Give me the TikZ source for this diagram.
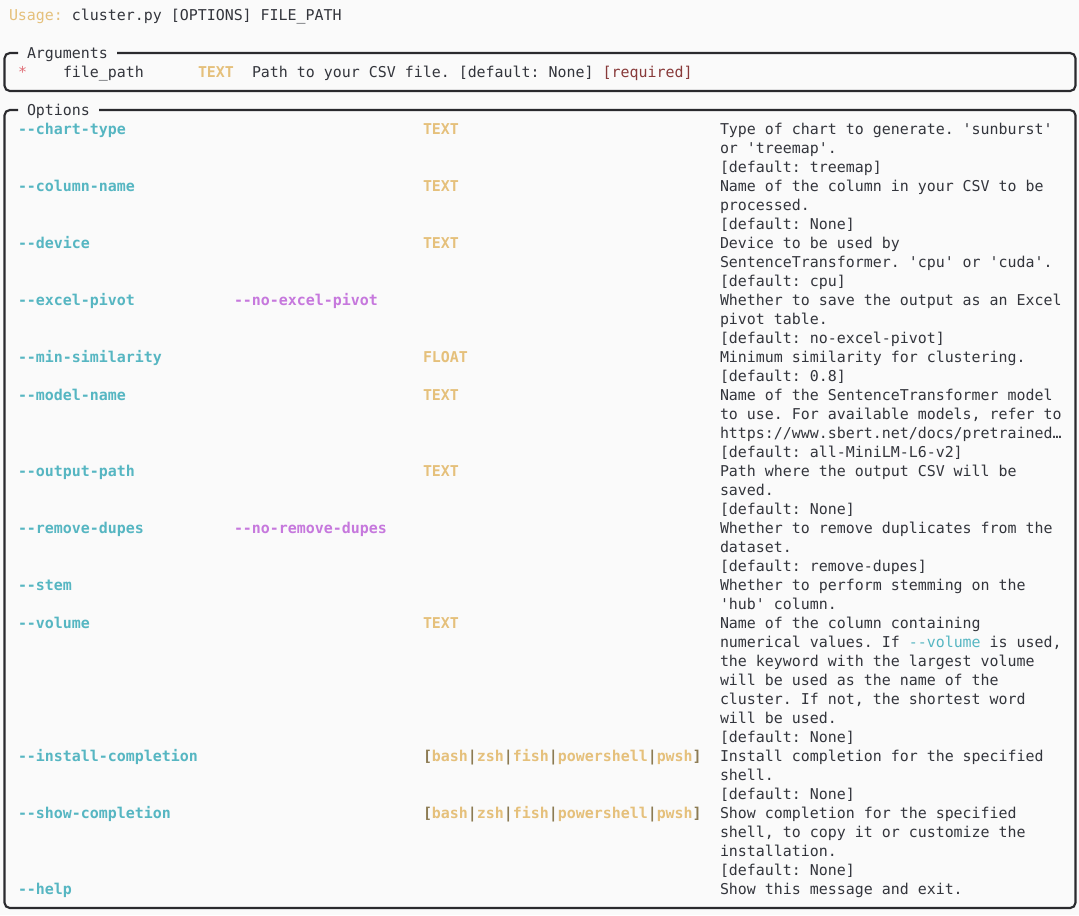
\documentclass[tikz,border=0pt]{standalone}
\usepackage{fontspec}
\setmonofont{DejaVu Sans Mono}
\definecolor{bgc}{HTML}{FAFAFA}
\definecolor{fgc}{HTML}{33353C}
\definecolor{yel}{HTML}{E5C07B}
\definecolor{cya}{HTML}{56B6C2}
\definecolor{mag}{HTML}{C678DD}
\definecolor{redc}{HTML}{E06C75}
\definecolor{reqc}{HTML}{883A3A}
\definecolor{olv}{HTML}{8C7B53}
\definecolor{brd}{HTML}{2A2A2E}
\tikzset{
  txt/.style={anchor=base west, inner sep=0pt, outer sep=0pt, text=fgc, font=\ttfamily\fontsize{11.2}{13}\selectfont},
  optname/.style={txt, text=cya, font=\ttfamily\bfseries\fontsize{11.2}{13}\selectfont},
  negname/.style={txt, text=mag, font=\ttfamily\bfseries\fontsize{11.2}{13}\selectfont},
  typename/.style={txt, text=yel, font=\ttfamily\bfseries\fontsize{11.2}{13}\selectfont},
  frame/.style={draw=brd, line width=1.6pt, rounded corners=4pt},
}
\newcommand{\cy}[1]{\textcolor{cya}{#1}}
\newcommand{\yl}[1]{\textcolor{yel}{#1}}
\newcommand{\ol}[1]{\textcolor{olv}{#1}}
\newcommand{\choicesT}{\ol{[}\yl{bash}\ol{|}\yl{zsh}\ol{|}\yl{fish}\ol{|}\yl{powershell}\ol{|}\yl{pwsh}\ol{]}}
\begin{document}
\begin{tikzpicture}[x=0.75pt,y=-0.75pt]
\fill[bgc] (0,0) rectangle (1079,915);
\useasboundingbox (0,0) rectangle (1079,915);

% usage line
\node[txt] (usage) at (9,20) {\textcolor{yel}{Usage:} cluster.py [OPTIONS] FILE\_PATH};

% Arguments panel
\draw[frame] (117,53) -- (1075.5,53) -- (1075.5,91) -- (4.5,91) -- (4.5,53) -- (18,53);
\node[txt] (argtitle) at (27,58) {Arguments};
\node[txt, text=redc] (star) at (18,77) {*};
\node[txt] (fp) at (63,77) {file\_path};
\node[typename] (fpt) at (198,77) {TEXT};
\node[txt] (fpd) at (252,77) {Path to your CSV file. [default: None] \textcolor{reqc}{[required]}};

% Options panel
\draw[frame] (99,110) -- (1075.5,110) -- (1075.5,908) -- (4.5,908) -- (4.5,110) -- (18,110);
\node[txt] (opttitle) at (27,115) {Options};

% option names
\node[optname] (o1) at (18,{134+19*0}) {--chart-type};
\node[optname] (o2) at (18,{134+19*3}) {--column-name};
\node[optname] (o3) at (18,{134+19*6}) {--device};
\node[optname] (o4) at (18,{134+19*9}) {--excel-pivot};
\node[optname] (o5) at (18,{134+19*12}) {--min-similarity};
\node[optname] (o6) at (18,{134+19*14}) {--model-name};
\node[optname] (o7) at (18,{134+19*18}) {--output-path};
\node[optname] (o8) at (18,{134+19*21}) {--remove-dupes};
\node[optname] (o9) at (18,{134+19*24}) {--stem};
\node[optname] (o10) at (18,{134+19*26}) {--volume};
\node[optname] (o11) at (18,{134+19*33}) {--install-completion};
\node[optname] (o12) at (18,{134+19*36}) {--show-completion};
\node[optname] (o13) at (18,{134+19*40}) {--help};

% negations
\node[negname] (n4) at (234,{134+19*9}) {--no-excel-pivot};
\node[negname] (n8) at (234,{134+19*21}) {--no-remove-dupes};

% types
\node[typename] (t1) at (423,{134+19*0}) {TEXT};
\node[typename] (t2) at (423,{134+19*3}) {TEXT};
\node[typename] (t3) at (423,{134+19*6}) {TEXT};
\node[typename] (t5) at (423,{134+19*12}) {FLOAT};
\node[typename] (t6) at (423,{134+19*14}) {TEXT};
\node[typename] (t7) at (423,{134+19*18}) {TEXT};
\node[typename] (t10) at (423,{134+19*26}) {TEXT};
\node[typename] (t11) at (423,{134+19*33}) {\choicesT};
\node[typename] (t12) at (423,{134+19*36}) {\choicesT};

% descriptions
\node[txt] (d0) at (720,{134+19*0}) {Type of chart to generate. 'sunburst'};
\node[txt] (d1) at (720,{134+19*1}) {or 'treemap'.};
\node[txt] (d2) at (720,{134+19*2}) {[default: treemap]};
\node[txt] (d3) at (720,{134+19*3}) {Name of the column in your CSV to be};
\node[txt] (d4) at (720,{134+19*4}) {processed.};
\node[txt] (d5) at (720,{134+19*5}) {[default: None]};
\node[txt] (d6) at (720,{134+19*6}) {Device to be used by};
\node[txt] (d7) at (720,{134+19*7}) {SentenceTransformer. 'cpu' or 'cuda'.};
\node[txt] (d8) at (720,{134+19*8}) {[default: cpu]};
\node[txt] (d9) at (720,{134+19*9}) {Whether to save the output as an Excel};
\node[txt] (d10) at (720,{134+19*10}) {pivot table.};
\node[txt] (d11) at (720,{134+19*11}) {[default: no-excel-pivot]};
\node[txt] (d12) at (720,{134+19*12}) {Minimum similarity for clustering.};
\node[txt] (d13) at (720,{134+19*13}) {[default: 0.8]};
\node[txt] (d14) at (720,{134+19*14}) {Name of the SentenceTransformer model};
\node[txt] (d15) at (720,{134+19*15}) {to use. For available models, refer to};
\node[txt] (d16) at (720,{134+19*16}) {https://www.sbert.net/docs/pretrained…};
\node[txt] (d17) at (720,{134+19*17}) {[default: all-MiniLM-L6-v2]};
\node[txt] (d18) at (720,{134+19*18}) {Path where the output CSV will be};
\node[txt] (d19) at (720,{134+19*19}) {saved.};
\node[txt] (d20) at (720,{134+19*20}) {[default: None]};
\node[txt] (d21) at (720,{134+19*21}) {Whether to remove duplicates from the};
\node[txt] (d22) at (720,{134+19*22}) {dataset.};
\node[txt] (d23) at (720,{134+19*23}) {[default: remove-dupes]};
\node[txt] (d24) at (720,{134+19*24}) {Whether to perform stemming on the};
\node[txt] (d25) at (720,{134+19*25}) {'hub' column.};
\node[txt] (d26) at (720,{134+19*26}) {Name of the column containing};
\node[txt] (d27) at (720,{134+19*27}) {numerical values. If \cy{--volume} is used,};
\node[txt] (d28) at (720,{134+19*28}) {the keyword with the largest volume};
\node[txt] (d29) at (720,{134+19*29}) {will be used as the name of the};
\node[txt] (d30) at (720,{134+19*30}) {cluster. If not, the shortest word};
\node[txt] (d31) at (720,{134+19*31}) {will be used.};
\node[txt] (d32) at (720,{134+19*32}) {[default: None]};
\node[txt] (d33) at (720,{134+19*33}) {Install completion for the specified};
\node[txt] (d34) at (720,{134+19*34}) {shell.};
\node[txt] (d35) at (720,{134+19*35}) {[default: None]};
\node[txt] (d36) at (720,{134+19*36}) {Show completion for the specified};
\node[txt] (d37) at (720,{134+19*37}) {shell, to copy it or customize the};
\node[txt] (d38) at (720,{134+19*38}) {installation.};
\node[txt] (d39) at (720,{134+19*39}) {[default: None]};
\node[txt] (d40) at (720,{134+19*40}) {Show this message and exit.};
\end{tikzpicture}
\end{document}
